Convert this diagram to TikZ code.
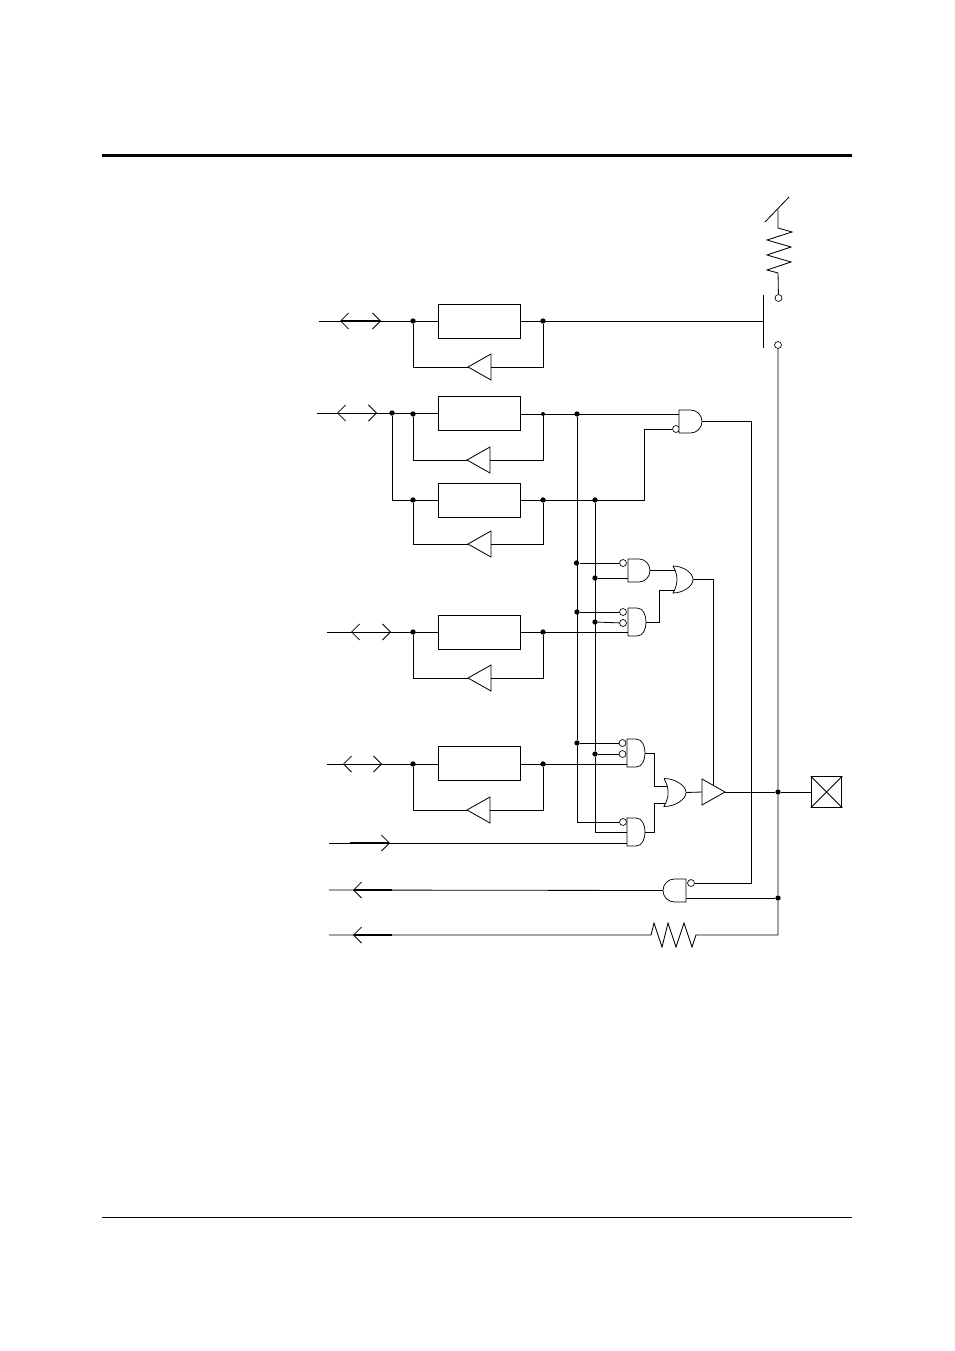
\documentclass[tikz,border=0pt]{standalone}
\usetikzlibrary{arrows.meta,calc,shapes.geometric}
\tikzset{
  conn/.style={line width=0.62pt},
  ioarrow/.style={line width=1pt,{Straight Barb[length=6pt,width=12pt,line width=0.62pt]}-{Straight Barb[length=6pt,width=12pt,line width=0.62pt]}},
  inarrow/.style={line width=1pt,-{Straight Barb[length=6pt,width=12pt,line width=0.62pt]}},
  latchbox/.style={draw,line width=0.62pt,minimum width=61.5pt,minimum height=26pt,inner sep=0pt},
  jdot/.style={circle,fill=black,inner sep=0pt,minimum size=4pt},
  bubble/.style={circle,draw,fill=white,line width=0.5pt,inner sep=0pt,minimum size=5.2pt},
  tribuf/.style={isosceles triangle,isosceles triangle stretches,draw,line width=0.62pt,inner sep=0pt,outer sep=0pt,minimum width=19.5pt,minimum height=17.25pt,anchor=apex},
  gatebox/.style={rectangle,inner sep=0pt,outer sep=0pt,minimum width=17.25pt,minimum height=17.25pt}
}
% gate outlines, drawn over the named gatebox nodes
\newcommand{\andbody}[1]{\draw[fill=white,line width=0.55pt] (#1.north west) -- (#1.north) to[out=0,in=90] (#1.east) to[out=-90,in=0] (#1.south) -- (#1.south west) -- cycle;}
\newcommand{\andflip}[1]{\draw[fill=white,line width=0.55pt] (#1.north east) -- (#1.north) to[out=180,in=90] (#1.west) to[out=-90,in=180] (#1.south) -- (#1.south east) -- cycle;}
\newcommand{\orbody}[1]{\draw[fill=white,line width=0.55pt] (#1.north west) .. controls (#1.north) and ($(#1.north east)!.5!(#1.east)$) .. (#1.east) .. controls ($(#1.south east)!.5!(#1.east)$) and (#1.south) .. (#1.south west) to[out=60,in=-60] (#1.north west);}
\begin{document}
\begin{tikzpicture}[x=0.75pt,y=-0.75pt,conn]
\useasboundingbox (0,0) rectangle (954,1351);
% page rules
\coordinate (rt1) at (102,155.5);
\coordinate (rt2) at (852,155.5);
\coordinate (rb1) at (102,1217.5);
\coordinate (rb2) at (852,1217.5);
\draw[line width=2.2pt] (rt1) -- (rt2);
\draw (rb1) -- (rb2);

% latches
\node[latchbox] (box1) at (479,321.5) {};
\node[latchbox] (box2) at (479,413.5) {};
\node[latchbox] (box3) at (479,500.5) {};
\node[latchbox] (box4) at (479,632.5) {};
\node[latchbox] (box5) at (479,763.5) {};

% feedback buffers
\node[tribuf,shape border rotate=180] (fb1) at (468,367) {};
\node[tribuf,shape border rotate=180] (fb2) at (467,460) {};
\node[tribuf,shape border rotate=180] (fb3) at (468,544) {};
\node[tribuf,shape border rotate=180] (fb4) at (468,678) {};
\node[tribuf,shape border rotate=180] (fb5) at (467,810) {};

% junctions
\node[jdot] (l1) at (413,321) {};
\node[jdot] (r1) at (543,321) {};
\node[jdot] (t2) at (392,413) {};
\node[jdot] (l2) at (413,414) {};
\node[jdot,minimum size=3pt] (r2) at (543,414) {};
\node[jdot] (l3) at (413,500) {};
\node[jdot] (r3) at (543,500) {};
\node[jdot] (l4) at (413,632) {};
\node[jdot] (r4) at (543,632) {};
\node[jdot] (l5) at (413,764) {};
\node[jdot] (r5) at (543,764) {};
\node[jdot] (a1) at (577,414) {};
\node[jdot] (a2) at (576.5,563) {};
\node[jdot] (a3) at (577,612) {};
\node[jdot] (a4) at (577,743) {};
\node[jdot] (b1) at (595,500) {};
\node[jdot] (b2) at (595,578) {};
\node[jdot] (b3) at (595,622) {};
\node[jdot] (b4) at (595,754) {};
\node[jdot] (c1) at (778,792) {};
\node[jdot] (c2) at (778,898) {};

% gates
\node[gatebox] (g1) at (690.5,421.5) {};
\node[gatebox,minimum width=16.5pt] (g2) at (639,570.5) {};
\node[gatebox,minimum width=13.5pt,minimum height=21pt] (g3) at (637,622) {};
\node[gatebox,minimum width=13.5pt,minimum height=21pt] (g4) at (636,753) {};
\node[gatebox,minimum width=13.5pt,minimum height=21pt] (g5) at (636,832) {};
\node[gatebox] (g6) at (674.5,890.5) {};
\node[gatebox,minimum width=15pt,minimum height=20.25pt] (o1) at (683,579.5) {};
\node[gatebox,minimum width=16.5pt,minimum height=21pt] (o2) at (675,792.5) {};
\node[tribuf,shape border rotate=0] (drv) at (725,792) {};

% inversion circles
\node[bubble] (n1) at (676,429) {};
\node[bubble] (n2) at (623,563) {};
\node[bubble] (n3) at (623,612) {};
\node[bubble] (n4) at (623,623) {};
\node[bubble] (n5) at (622.5,743) {};
\node[bubble] (n6) at (622.5,754) {};
\node[bubble] (n7) at (623,822) {};
\node[bubble] (n8) at (691,883) {};

% pad and supply switch
\node[draw,minimum size=23pt,inner sep=0pt] (pad) at (826.5,792) {};
\draw (pad.north west) -- (pad.south east);
\draw (pad.north east) -- (pad.south west);
\node[bubble] (s1) at (778.5,298) {};
\node[bubble] (s2) at (778,345) {};
\coordinate (sw1) at (763,295);
\coordinate (sw2) at (763,348);
\draw[line width=0.75pt] (sw1) -- (sw2);
\coordinate (v1) at (765,222);
\coordinate (v2) at (789,197);
\draw (v1) -- (v2);
\coordinate (v3) at (778,210);
\draw (v3) -- (778,228) -- (792,232) -- (767,240) -- (791,247) -- (767,255) -- (791,262) -- (767,270) -- (778,273) -- (s1);

% left ends of the wires
\coordinate (w1) at (319,321);
\coordinate (w2) at (317,413);
\coordinate (w4) at (327,632);
\coordinate (w5) at (327,764);
\coordinate (w6) at (329,843);
\coordinate (w7) at (329,890);
\coordinate (w8) at (329,935);

% io arrows
\coordinate (h1a) at (340,321);
\coordinate (h1b) at (381,321);
\coordinate (h2a) at (337,413);
\coordinate (h2b) at (377,413);
\coordinate (h4a) at (351,632);
\coordinate (h4b) at (391,632);
\coordinate (h5a) at (343,764);
\coordinate (h5b) at (382,764);
\coordinate (h6a) at (350,843);
\coordinate (h6b) at (390,843);
\coordinate (h7a) at (392,890);
\coordinate (h7b) at (353,890);
\coordinate (h8a) at (392,935);
\coordinate (h8b) at (353,935);
\draw[ioarrow] (h1a) -- (h1b);
\draw[ioarrow,line width=0.62pt] (h2a) -- (h2b);
\draw[ioarrow,line width=0.62pt] (h4a) -- (h4b);
\draw[ioarrow,line width=0.62pt] (h5a) -- (h5b);
\draw[inarrow,line width=0.8pt] (h6a) -- (h6b);
\draw[inarrow] (h7a) -- (h7b);
\draw[inarrow] (h8a) -- (h8b);

% wires to the latches
\draw (w1) -- (w1 -| box1.west);
\draw (w2) -- (w2 -| box2.west);
\draw (w4) -- (w4 -| box4.west);
\draw (w5) -- (w5 -| box5.west);
\draw (t2) -- (392,500) -- (box3.west |- l3);

% feedback loops
\draw (l1) |- (fb1.apex);
\draw (r1) |- (fb1.lower side);
\draw (l2) |- (fb2.apex);
\draw (r2) |- (fb2.lower side);
\draw (l3) |- (fb3.apex);
\draw (r3) |- (fb3.lower side);
\draw (l4) |- (fb4.apex);
\draw (r4) |- (fb4.lower side);
\draw (l5) |- (fb5.apex);
\draw (r5) |- (fb5.lower side);

% latch outputs
\draw (box1.east |- r1) -- (sw1 |- r1);
\draw (box2.east |- r2) -- (r2 -| g1.west);
\draw (box3.east |- r3) -- (644,500) |- (n1);
\draw (box4.east |- r4) -- (r4 -| g3.west);
\draw (box5.east |- r5) -- (r5 -| g4.west);

% select lines
\draw (a1) -- (a4) -- (577,822) -- (n7);
\draw (b1) -- (b4) -- (595,832) -- (g5.west);

% gate inputs
\draw (a2) -- (n2);
\draw (a3) -- (n3);
\draw (a4) -- (n5);
\draw (b2) -- (b2 -| g2.west);
\draw (b3) -- (n4);
\draw (b4) -- (n6);
\draw (w6) -- (w6 -| g5.west);

% or gates and driver
\draw (g1.east) -- (751,421.5) -- (751,883) -- (n8);
\draw (g2.east) -- (g2.east -| o1.center);
\draw (g3.east) -- (659,622) -- (659,590) -- (o1 |- 0,590);
\draw (g4.east) -- (654,753) -- (654,786) -- (o2 |- 0,786);
\draw (g5.east) -- (654,832) -- (654,803) -- (o2 |- 0,803);
\draw (o2.east) -- (drv.lower side);
\draw (o1.east) -- (713,579.5) -- (713,785);
\draw (drv.apex) -- (c1) -- (pad.west);

% supply rail and bottom rows
\draw (s2) -- (c1) -- (c2) -- (778,935) -- (696,935) -- (692,947) -- (684,923) -- (676,947) -- (668,923) -- (662,947) -- (654,923) -- (651,935) -- (w8);
\draw (c2) -- (g6.east |- c2);
\draw (g6.west) -- (w7);

% gate outlines
\andbody{g1}
\andbody{g2}
\andbody{g3}
\andbody{g4}
\andbody{g5}
\andflip{g6}
\orbody{o1}
\orbody{o2}
\end{tikzpicture}
\end{document}
